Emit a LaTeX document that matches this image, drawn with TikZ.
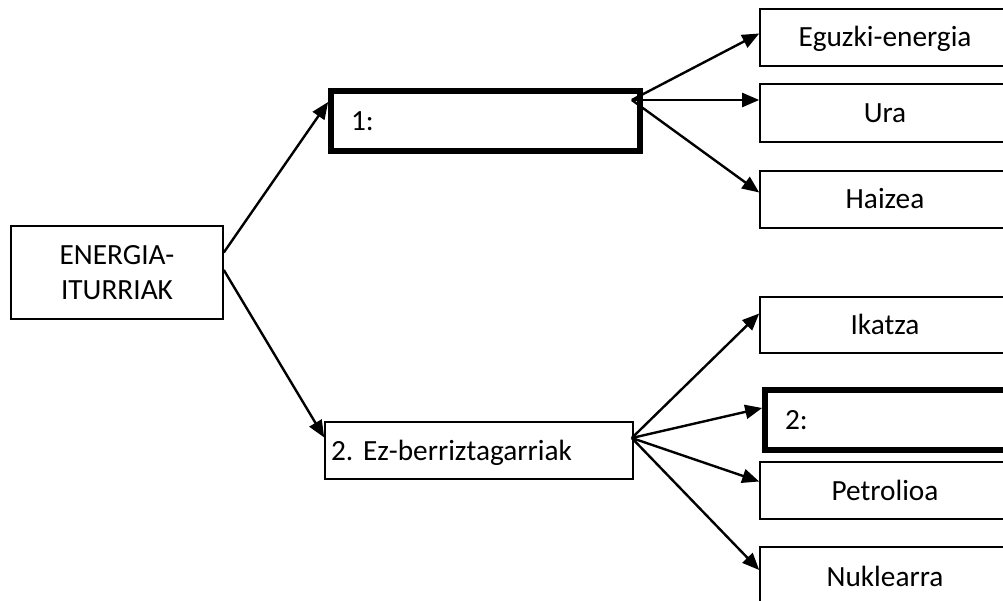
\documentclass[tikz,border=0pt]{standalone}
\usepackage{fontspec}
\setmainfont{Carlito}
\usetikzlibrary{arrows.meta,calc}
\frenchspacing
\begin{document}
\begin{tikzpicture}[x=1pt,y=-1pt,
  every node/.style={font=\fontsize{29.3}{34.5}\selectfont, inner sep=0pt},
  box/.style={draw, line width=1.6pt, rectangle},
  leaf/.style={box, minimum width=250pt, minimum height=57pt, text height=19pt, text depth=0pt},
  thickbox/.style={draw, line width=5.7pt, rectangle, align=left, text height=19pt, text depth=0pt},
  conn/.style={line width=2.4pt, -{Triangle[length=17pt,width=14pt]}}
]
\useasboundingbox (0,0) rectangle (1003,601);
\clip (0,0) rectangle (1003,601);

% left root
\node[box, minimum width=212pt, minimum height=93pt, align=center] (en) at (117,272.5) {ENERGIA-\\ITURRIAK};

% middle level
\node[thickbox, text width=269pt, inner xsep=20pt, minimum height=60pt] (b1) at (485.5,121) {1:};
\node[box, align=left, text width=296pt, inner xsep=6pt, minimum height=57pt, text height=19pt, text depth=0pt] (ez) at (479,450.5) {2. Ez-berriztagarriak};

% right leaves (upper)
\node[leaf] (eg) at (885,37.5) {Eguzki-energia};
\node[leaf, minimum height=58pt] (ura) at (885,113) {Ura};
\node[leaf] (hai) at (885,199.5) {Haizea};

% right leaves (lower)
\node[leaf, minimum height=56pt] (ika) at (885,325) {Ikatza};
\node[thickbox, text width=210pt, inner xsep=20pt, minimum height=60.5pt] (b2) at (890,420) {2:};
\node[leaf] (pet) at (885,490.5) {Petrolioa};
\node[leaf, minimum height=60pt] (nuk) at (885,577) {Nuklearra};

% connectors
\draw[conn] ([yshift=20pt]en.east) -- ([yshift=19pt]b1.west);
\draw[conn] ([yshift=2.5pt]en.east) -- ([yshift=13pt]ez.west);

\coordinate (o1) at ([xshift=-11pt,yshift=21pt]b1.east);
\draw[conn] (o1) -- ([yshift=4pt]eg.west);
\draw[conn] (o1) -- ([yshift=13pt]ura.west);
\draw[conn] (o1) -- ([yshift=7pt]hai.west);

\coordinate (o2) at ([xshift=-2pt,yshift=12.5pt]ez.east);
\draw[conn] (o2) -- ([yshift=11.5pt]ika.west);
\draw[conn] (o2) -- ([yshift=12pt]b2.west);
\draw[conn] (o2) -- ([yshift=9pt]pet.west);
\draw[conn] (o2) -- ([yshift=7pt]nuk.west);
\end{tikzpicture}
\end{document}
